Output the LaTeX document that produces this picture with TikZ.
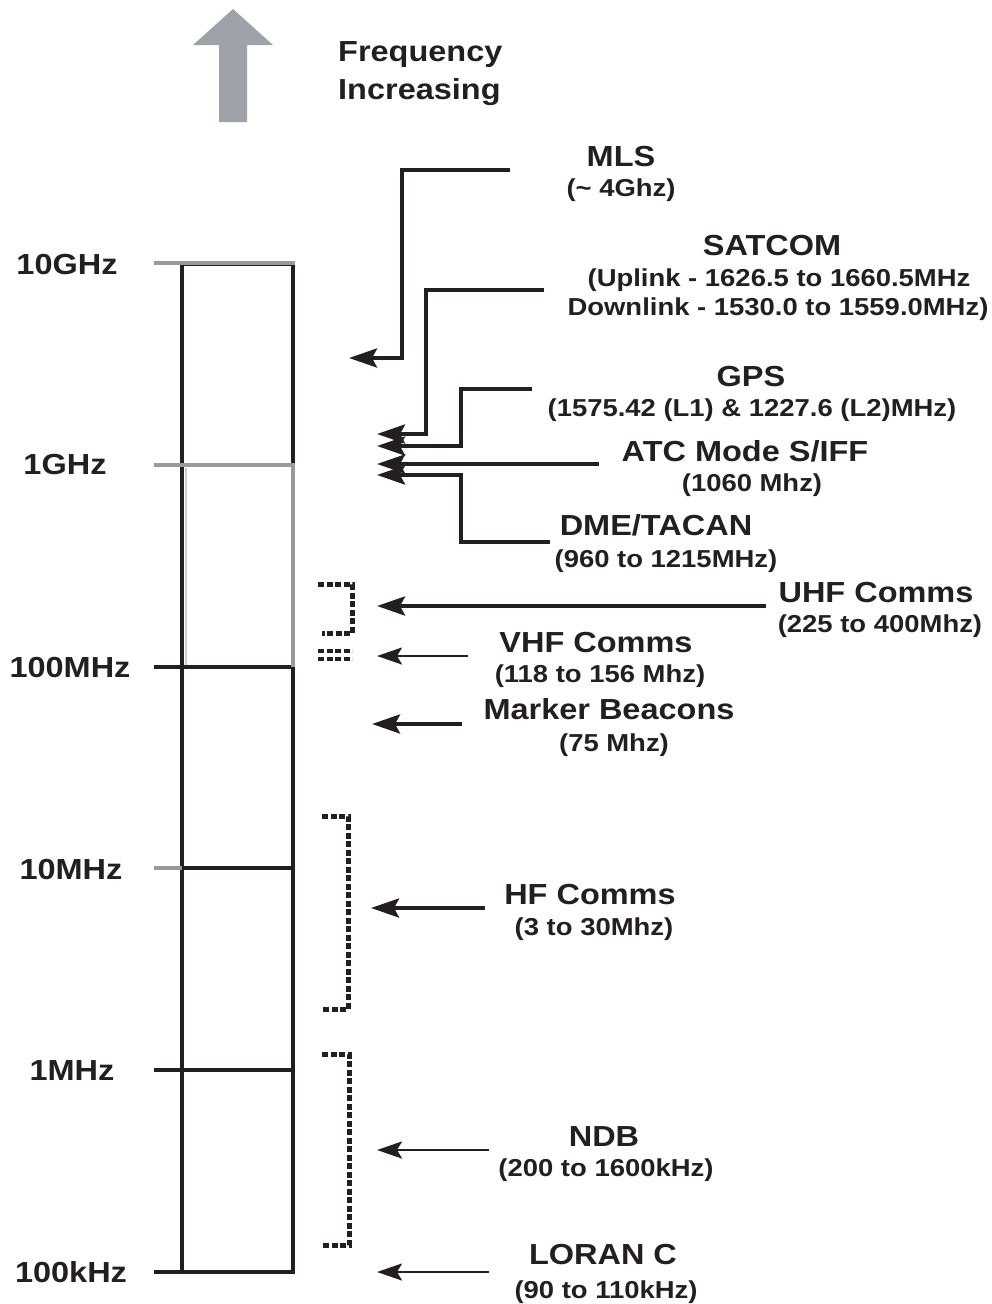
\documentclass[tikz,border=0pt]{standalone}
\usepackage{fontspec}
\setmainfont{Liberation Sans}[FakeStretch=1.12]
\usetikzlibrary{arrows.meta}
\definecolor{tickgrey}{HTML}{9A9A9A}
\definecolor{arrowgrey}{HTML}{9EA3AA}
\definecolor{ink}{HTML}{231F20}
\tikzset{
  ttl/.style={anchor=base, inner sep=0pt, font=\fontsize{29}{32}\selectfont\bfseries, text=ink},
  sub/.style={anchor=base, inner sep=0pt, font=\fontsize{24.5}{28}\selectfont\bfseries, text=ink},
  axl/.style={anchor=base, inner sep=0pt, font=\fontsize{29}{32}\selectfont\bfseries, text=ink},
  conn/.style={draw=ink, line width=3.8pt, -{Stealth[length=28pt,width=19pt,inset=5pt]}},
  thinconn/.style={draw=ink, line width=2.5pt, -{Stealth[length=25pt,width=17pt,inset=5pt]}},
  brk/.style={draw=ink, line width=5pt, dash pattern=on 6pt off 2.5pt},
  barline/.style={draw=ink, line width=4pt},
  greyline/.style={draw=tickgrey, line width=4pt}
}
\begin{document}
\begin{tikzpicture}[x=1pt,y=-1pt]
\useasboundingbox (0,0) rectangle (992,1304);
% big grey arrow
\fill[arrowgrey] (233,9) -- (273,45) -- (247,45) -- (247,122) -- (219,122) -- (219,45) -- (193,45) -- cycle;
\node[anchor=base west, inner sep=0pt, font=\fontsize{29}{32}\selectfont\bfseries, text=ink] (freq) at (338,61) {Frequency};
\node[anchor=base west, inner sep=0pt, font=\fontsize{29}{32}\selectfont\bfseries, text=ink] (incr) at (338,99) {Increasing};
% bar
\draw[barline] (182,264) rectangle (293,1272);
\draw[barline] (154,667) -- (293,667);
\draw[barline] (182,868) -- (293,868);
\draw[barline] (154,1070) -- (293,1070);
\draw[barline] (154,1272) -- (293,1272);
\draw[greyline] (154,263) -- (295,263);
\draw[greyline] (154,465) -- (295,465);
\draw[greyline] (293,465) -- (293,667);
\draw[draw=tickgrey!50, line width=1.5pt] (186,468) -- (186,665);
\draw[greyline] (154,868) -- (182,868);
% axis labels
\node[axl] (l10g) at (67,274) {10GHz};
\node[axl] (l1g) at (65,474) {1GHz};
\node[axl] (l100m) at (70,677) {100MHz};
\node[axl] (l10m) at (71,879) {10MHz};
\node[axl] (l1m) at (72,1080) {1MHz};
\node[axl] (l100k) at (71,1282) {100kHz};
% labels
\node[ttl] (mls) at (621,166) {MLS};
\node[sub] (mlss) at (621,196) {(\textasciitilde\ 4Ghz)};
\node[ttl] (sat) at (772,255) {SATCOM};
\node[sub] (sats1) at (779,286) {(Uplink - 1626.5 to 1660.5MHz};
\node[sub] (sats2) at (778,315) {Downlink - 1530.0 to 1559.0MHz)};
\node[ttl] (gps) at (751,386) {GPS};
\node[sub] (gpss) at (752,416) {(1575.42 (L1) \& 1227.6 (L2)MHz)};
\node[ttl] (atc) at (745,461) {ATC Mode S/IFF};
\node[sub] (atcs) at (752,491) {(1060 Mhz)};
\node[ttl] (dme) at (656,535) {DME/TACAN};
\node[sub] (dmes) at (666,567) {(960 to 1215MHz)};
\node[ttl] (uhf) at (876,602) {UHF Comms};
\node[sub] (uhfs) at (880,632) {(225 to 400Mhz)};
\node[ttl] (vhf) at (596,652) {VHF Comms};
\node[sub] (vhfs) at (600,682) {(118 to 156 Mhz)};
\node[ttl] (mkr) at (609,719) {Marker Beacons};
\node[sub] (mkrs) at (614,751) {(75 Mhz)};
\node[ttl] (hf) at (590,904) {HF Comms};
\node[sub] (hfs) at (594,935) {(3 to 30Mhz)};
\node[ttl] (ndb) at (604,1146) {NDB};
\node[sub] (ndbs) at (606,1176) {(200 to 1600kHz)};
\node[ttl] (lor) at (603,1264) {LORAN C};
\node[sub] (lors) at (606,1298) {(90 to 110kHz)};
% connector coordinates
\coordinate (mlsA) at (510,170); \coordinate (mlsB) at (402,358); \coordinate (mlsT) at (349,358);
\coordinate (satA) at (544,290); \coordinate (satB) at (426,434); \coordinate (satT) at (377,434);
\coordinate (gpsA) at (532,389); \coordinate (gpsB) at (461,446); \coordinate (gpsT) at (377,446);
\coordinate (atcA) at (599,464); \coordinate (atcT) at (377,464);
\coordinate (dmeA) at (550,542); \coordinate (dmeB) at (461,475); \coordinate (dmeT) at (377,475);
\coordinate (uhfA) at (766,606); \coordinate (uhfT) at (377,606);
\coordinate (vhfA) at (468,656); \coordinate (vhfT) at (377,656);
\coordinate (mkrA) at (462,724); \coordinate (mkrT) at (372,724);
\coordinate (hfA) at (485,908); \coordinate (hfT) at (371,908);
\coordinate (ndbA) at (489,1150); \coordinate (ndbT) at (377,1150);
\coordinate (lorA) at (489,1272); \coordinate (lorT) at (377,1272);
% connectors
\draw[conn] (mlsA) -| (mlsB) -- (mlsT);
\draw[conn] (satA) -| (satB) -- (satT);
\draw[conn] (gpsA) -| (gpsB) -- (gpsT);
\draw[conn] (atcA) -- (atcT);
\draw[conn] (dmeA) -| (dmeB) -- (dmeT);
\draw[conn] (uhfA) -- (uhfT);
\draw[thinconn] (vhfA) -- (vhfT);
\draw[conn] (mkrA) -- (mkrT);
\draw[conn] (hfA) -- (hfT);
\draw[thinconn] (ndbA) -- (ndbT);
\draw[thinconn] (lorA) -- (lorT);
% dashed brackets
\draw[brk] (318,584) -- (352,584) -- (352,633) -- (322,633);
\draw[brk, line width=4pt] (318,651) -- (352,651);
\draw[brk, line width=4pt] (318,659) -- (352,659);
\draw[brk] (322,816) -- (348,816) -- (348,1009) -- (322,1009);
\draw[brk] (322,1054) -- (349,1054) -- (349,1245) -- (322,1245);
\end{tikzpicture}
\end{document}
